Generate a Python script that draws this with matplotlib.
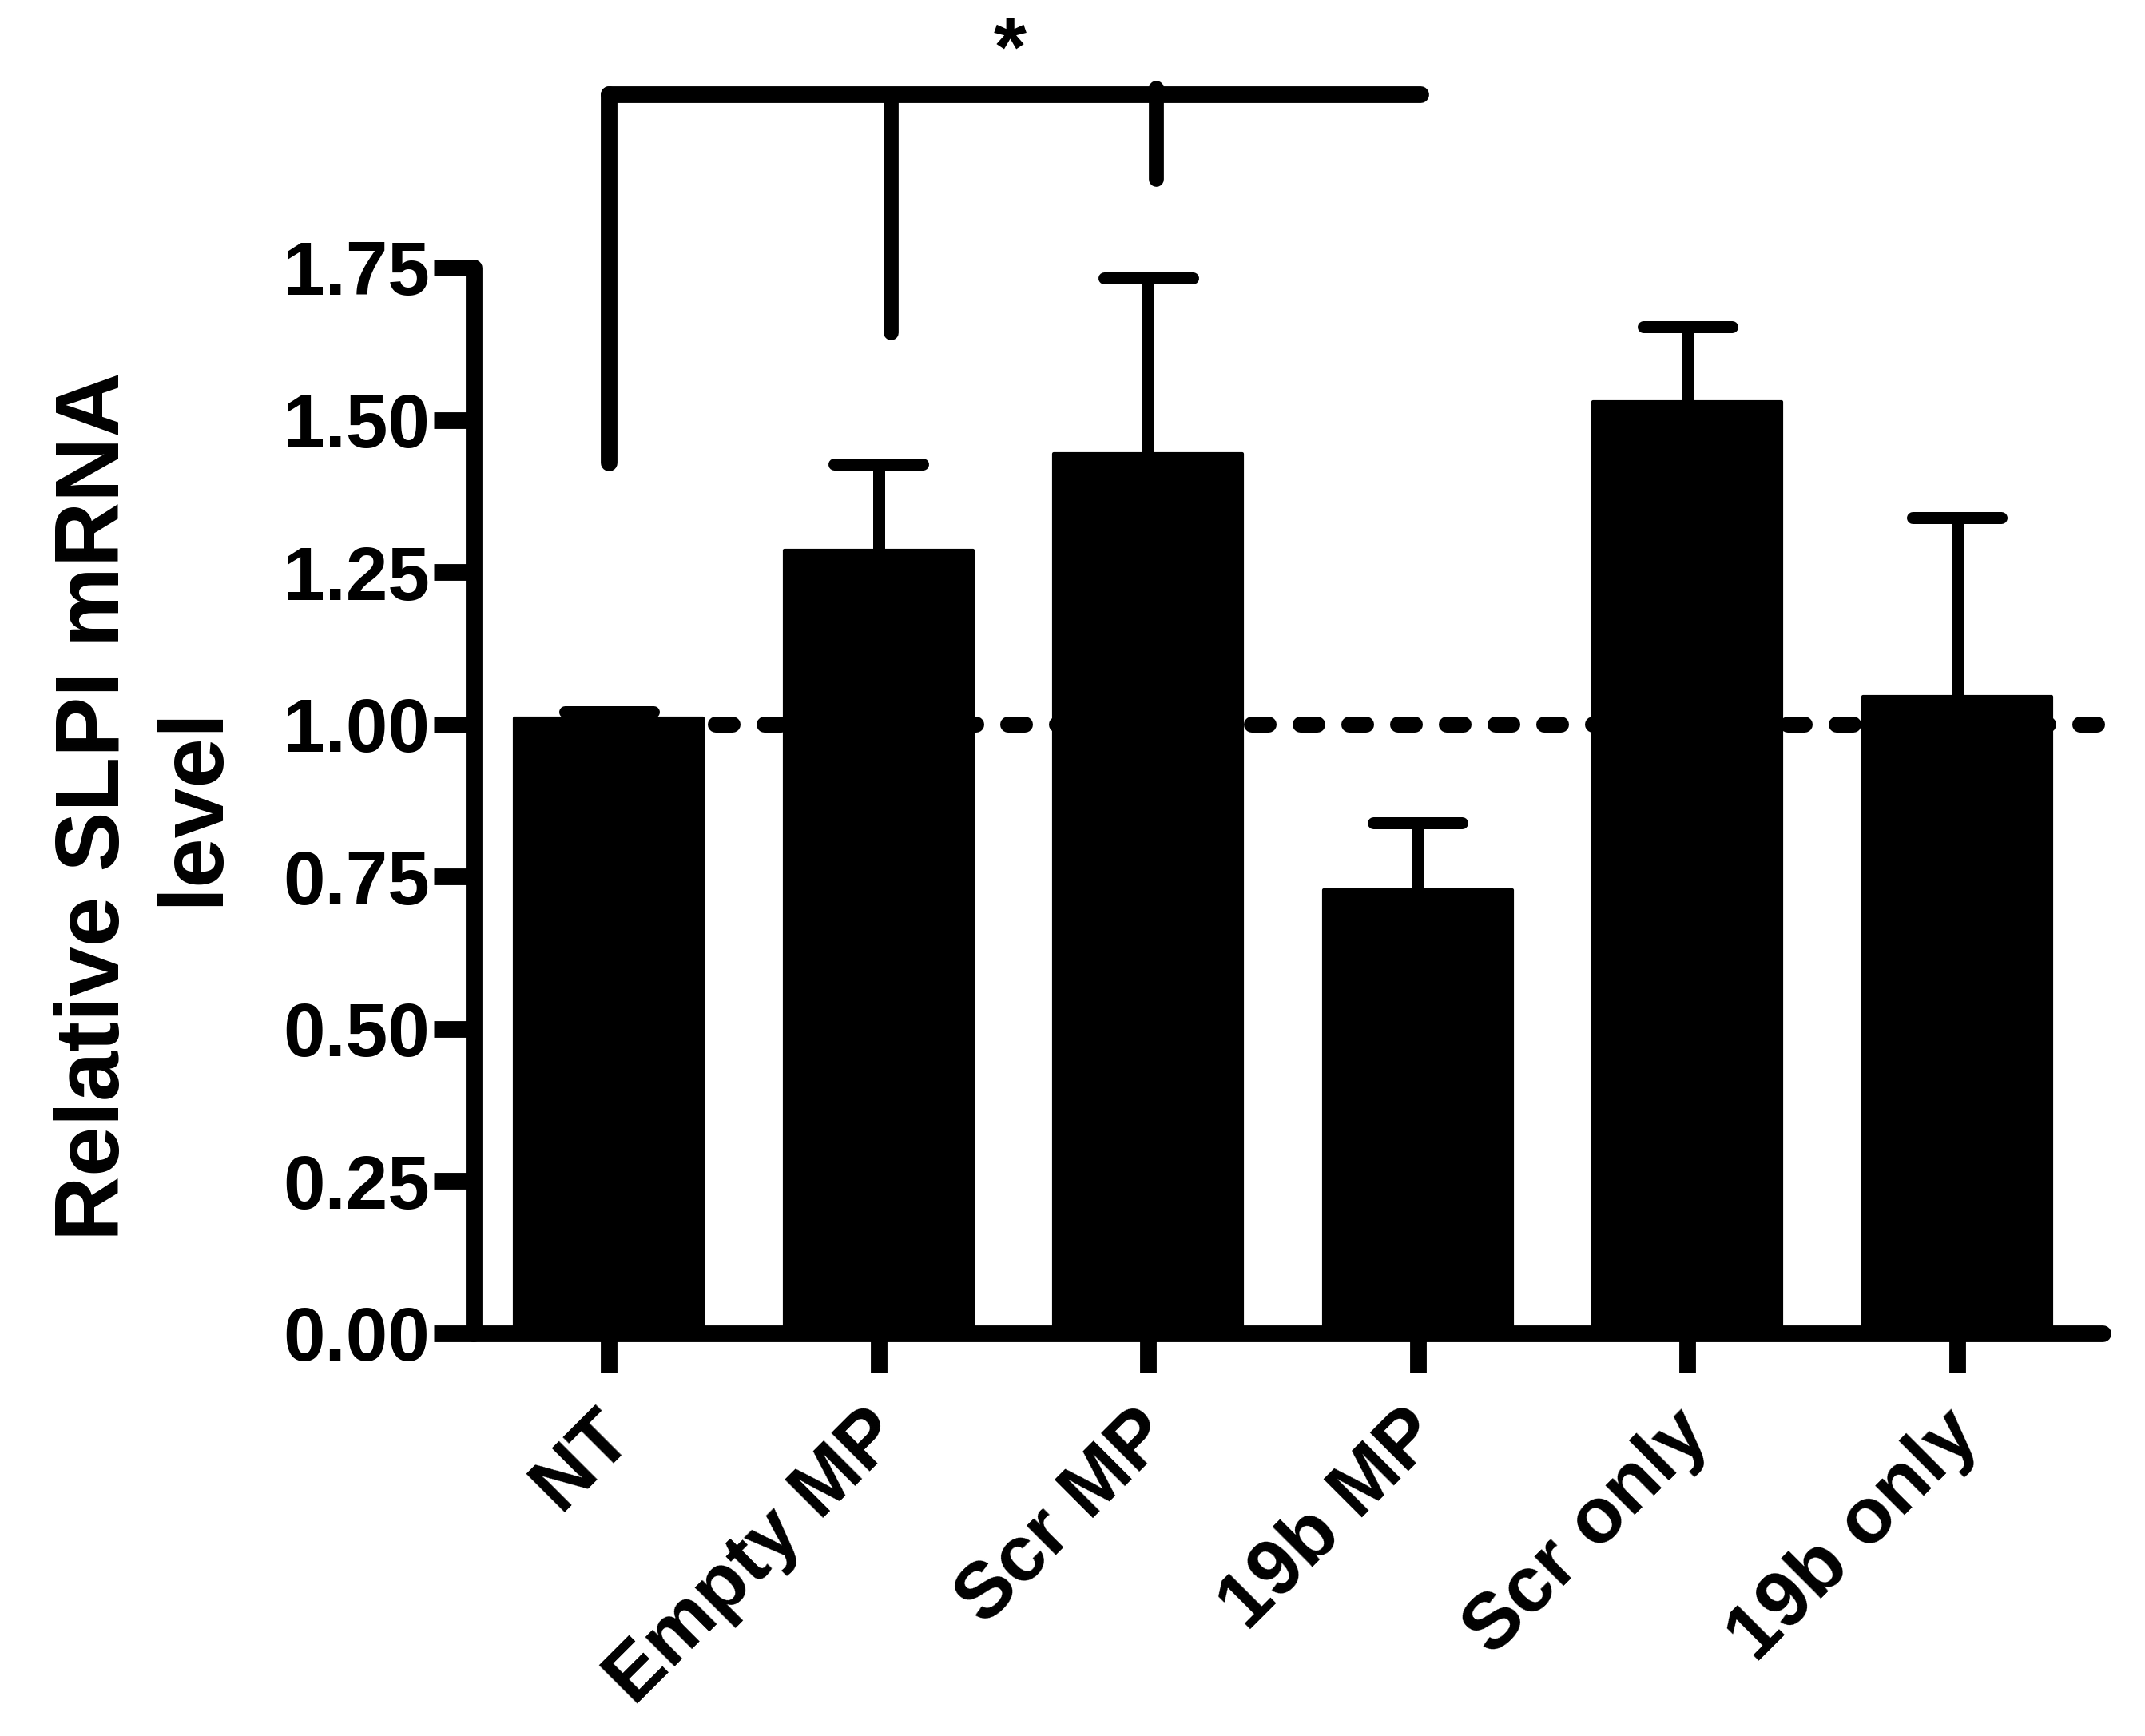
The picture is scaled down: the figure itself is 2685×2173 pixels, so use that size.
import matplotlib
matplotlib.use('Agg')
import matplotlib.pyplot as plt
import matplotlib.transforms as mtransforms
import numpy as np

plt.rcParams['font.family'] = ['Liberation Sans', 'DejaVu Sans']
plt.rcParams['font.weight'] = 'bold'

# values
categories = ['NT', 'Empty MP', 'Scr MP', '19b MP', 'Scr only', '19b only']
means = [1.01, 1.285, 1.444, 0.728, 1.530, 1.046]
sem = [0.01, 0.142, 0.289, 0.110, 0.123, 0.293]
yticks = [0.00, 0.25, 0.50, 0.75, 1.00, 1.25, 1.50, 1.75]

# significance bracket
bracket_y = 2.035
bracket_span = [0.0, 3.01]
leg_x = [0.0, 1.046, 2.03]
leg_bottom = [1.43, 1.644, 1.896]
leg_top = [2.035, 2.035, 2.045]
leg_width = [15, 13.5, 13.5]
star_x, star_y = 1.487, 2.065

fig = plt.figure(figsize=(26.85, 21.73), dpi=100)
ax = fig.add_axes([0.22104, 0.23194, 0.75922, 0.61390])

x = np.arange(len(categories))

# reference line at 1
ax.plot([0.036, 5.52], [1.0, 1.0], color='black', lw=14.4, linestyle=(0, (1.05, 2.0)),
        dash_capstyle='round', zorder=1, clip_on=False)

bars = ax.bar(x, means, width=0.70, color='black', edgecolor='black', linewidth=3, zorder=2)
for b in bars:
    b.set_joinstyle('round')

# upper error bars only
top = np.array(means) + np.array(sem)
ax.vlines(x, means, top, color='black', lw=10.8, zorder=3, clip_on=False)
cl = ax.hlines(top, x - 0.164, x + 0.164, color='black', lw=10.8, zorder=3, clip_on=False)
cl.set_capstyle('round')

# bracket
hl = ax.hlines(bracket_y, bracket_span[0], bracket_span[1], color='black', lw=15, clip_on=False)
hl.set_capstyle('round')
for lx, lb, lt, lw in zip(leg_x, leg_bottom, leg_top, leg_width):
    ax.plot([lx, lx], [lb, lt], color='black', lw=lw, clip_on=False,
            solid_capstyle='round')
ax.text(star_x, star_y, '*', fontsize=76, fontweight='bold', ha='center', va='baseline')

ax.set_xlim(-0.5, 5.54)
ax.set_ylim(0, 1.75)
ax.set_yticks(yticks)
ax.set_yticklabels(['%.2f' % v for v in yticks])
ax.set_xticks(x)
ax.set_xticklabels(categories, rotation=45, ha='right', va='center', rotation_mode='anchor')

for s in ['top', 'right']:
    ax.spines[s].set_visible(False)
for s in ['left', 'bottom']:
    ax.spines[s].set_linewidth(15)
    ax.spines[s].set_capstyle('round')

ax.tick_params(axis='y', direction='out', length=36, width=15, labelsize=68, pad=4)
ax.tick_params(axis='x', direction='out', length=35, width=15, labelsize=71, pad=46)

offset = mtransforms.ScaledTranslation(0.13, 0, fig.dpi_scale_trans)
for lab in ax.get_xticklabels():
    lab.set_transform(lab.get_transform() + offset)

ax.set_ylabel('Relative SLPI mRNA\nlevel', fontsize=81, fontweight='bold')
ax.yaxis.set_label_coords(-0.146, 0.4948)

fig.savefig('out.png', dpi=100)
